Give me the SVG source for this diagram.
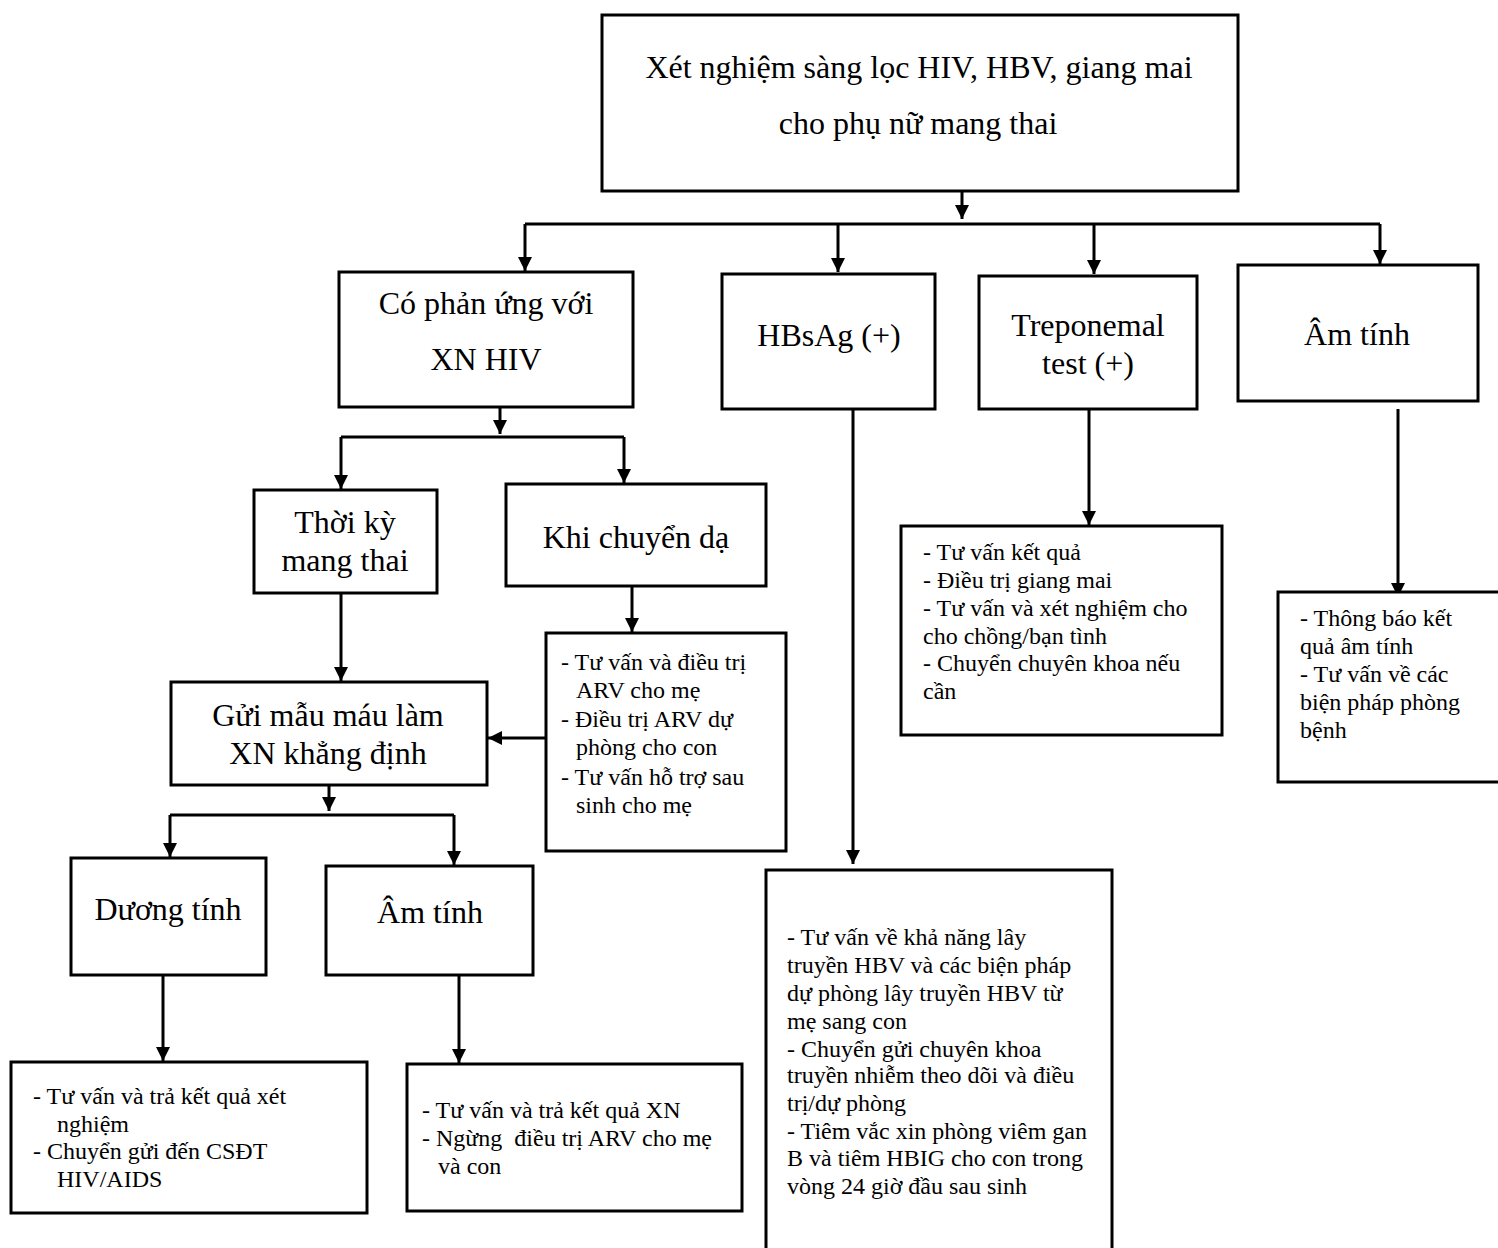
<svg xmlns="http://www.w3.org/2000/svg" width="1498" height="1248" viewBox="0 0 1498 1248">
<style>
.box{fill:#fff;stroke:#000;stroke-width:3}
.t{font-family:"Liberation Serif","Times New Roman",serif;fill:#000}
.big{font-size:32px;text-anchor:middle}
.sm{font-size:24px}
.hb{font-size:24px}
.c{fill:none;stroke:#000;stroke-width:3}
</style>
<defs>
<marker id="ah" markerUnits="userSpaceOnUse" markerWidth="14" markerHeight="16" refX="14" refY="7" orient="auto">
<path d="M0,0 L14,7 L0,14 Z" fill="#000"/>
</marker>
</defs>
<rect width="1498" height="1248" fill="#fff"/>

<g id="connectors">
<path class="c" d="M962,191 V219" marker-end="url(#ah)"/>
<path class="c" d="M525,224 H1380"/>
<path class="c" d="M525,224 V271" marker-end="url(#ah)"/>
<path class="c" d="M838,224 V272" marker-end="url(#ah)"/>
<path class="c" d="M1094,224 V274" marker-end="url(#ah)"/>
<path class="c" d="M1380,224 V264" marker-end="url(#ah)"/>
<path class="c" d="M500,407 V434" marker-end="url(#ah)"/>
<path class="c" d="M341,437 H624"/>
<path class="c" d="M341,437 V489" marker-end="url(#ah)"/>
<path class="c" d="M624,437 V483" marker-end="url(#ah)"/>
<path class="c" d="M632,586 V632" marker-end="url(#ah)"/>
<path class="c" d="M341,593 V681" marker-end="url(#ah)"/>
<path class="c" d="M546,738 H488" marker-end="url(#ah)"/>
<path class="c" d="M329,785 V811" marker-end="url(#ah)"/>
<path class="c" d="M170,815 H454"/>
<path class="c" d="M170,815 V857" marker-end="url(#ah)"/>
<path class="c" d="M454,815 V865" marker-end="url(#ah)"/>
<path class="c" d="M163,975 V1061" marker-end="url(#ah)"/>
<path class="c" d="M459,975 V1063" marker-end="url(#ah)"/>
<path class="c" d="M853,409 V864" marker-end="url(#ah)"/>
<path class="c" d="M1089,409 V525" marker-end="url(#ah)"/>
<path class="c" d="M1398,409 V597" marker-end="url(#ah)" stroke-width="2"/>
</g>

<g id="n-top">
<rect class="box" x="602" y="15" width="636" height="176"/>
<text class="t big" x="919" y="78">Xét nghiệm sàng lọc HIV, HBV, giang mai</text>
<text class="t big" x="918" y="134">cho phụ nữ mang thai</text>
</g>

<g id="n-hiv">
<rect class="box" x="339" y="272" width="294" height="135"/>
<text class="t big" x="486" y="314">Có phản ứng với</text>
<text class="t big" x="486" y="370">XN HIV</text>
</g>

<g id="n-hbsag">
<rect class="box" x="722" y="274" width="213" height="135"/>
<text class="t big" x="829" y="346">HBsAg (+)</text>
</g>

<g id="n-trep">
<rect class="box" x="979" y="276" width="218" height="133"/>
<text class="t big" x="1088" y="336">Treponemal</text>
<text class="t big" x="1088" y="374">test (+)</text>
</g>

<g id="n-neg">
<rect class="box" x="1238" y="265" width="240" height="136"/>
<text class="t big" x="1357" y="345">Âm tính</text>
</g>

<g id="n-thoiky">
<rect class="box" x="254" y="490" width="183" height="103"/>
<text class="t big" x="345" y="533">Thời kỳ</text>
<text class="t big" x="345" y="571">mang thai</text>
</g>

<g id="n-chuyenda">
<rect class="box" x="506" y="484" width="260" height="102"/>
<text class="t big" x="636" y="548">Khi chuyển dạ</text>
</g>

<g id="n-arv">
<rect class="box" x="546" y="633" width="240" height="218"/>
<text class="t sm" x="561" y="670">- Tư vấn và điều trị</text>
<text class="t sm" x="576" y="698">ARV cho mẹ</text>
<text class="t sm" x="561" y="727">- Điều trị ARV dự</text>
<text class="t sm" x="576" y="755">phòng cho con</text>
<text class="t sm" x="561" y="785">- Tư vấn hỗ trợ sau</text>
<text class="t sm" x="576" y="813">sinh cho mẹ</text>
</g>

<g id="n-gui">
<rect class="box" x="171" y="682" width="316" height="103"/>
<text class="t big" x="328" y="726">Gửi mẫu máu làm</text>
<text class="t big" x="328" y="764">XN khẳng định</text>
</g>

<g id="n-duong">
<rect class="box" x="71" y="858" width="195" height="117"/>
<text class="t big" x="168" y="920">Dương tính</text>
</g>

<g id="n-am">
<rect class="box" x="326" y="866" width="207" height="109"/>
<text class="t big" x="430" y="923">Âm tính</text>
</g>

<g id="n-duong-act">
<rect class="box" x="11" y="1062" width="356" height="151"/>
<text class="t sm" x="33" y="1104">- Tư vấn và trả kết quả xét</text>
<text class="t sm" x="57" y="1132">nghiệm</text>
<text class="t sm" x="33" y="1159">- Chuyển gửi đến CSĐT</text>
<text class="t sm" x="57" y="1187">HIV/AIDS</text>
</g>

<g id="n-am-act">
<rect class="box" x="407" y="1064" width="335" height="147"/>
<text class="t sm" x="422" y="1118">- Tư vấn và trả kết quả XN</text>
<text class="t sm" x="422" y="1146" xml:space="preserve">- Ngừng  điều trị ARV cho mẹ</text>
<text class="t sm" x="438" y="1174">và con</text>
</g>

<g id="n-hbv-act">
<rect class="box" x="766" y="870" width="346" height="390"/>
<text class="t hb" x="787" y="945">- Tư vấn về khả năng lây</text>
<text class="t hb" x="787" y="973">truyền HBV và các biện pháp</text>
<text class="t hb" x="787" y="1001">dự phòng lây truyền HBV từ</text>
<text class="t hb" x="787" y="1029">mẹ sang con</text>
<text class="t hb" x="787" y="1057">- Chuyển gửi chuyên khoa</text>
<text class="t hb" x="787" y="1083">truyền nhiễm theo dõi và điều</text>
<text class="t hb" x="787" y="1111">trị/dự phòng</text>
<text class="t hb" x="787" y="1139">- Tiêm vắc xin phòng viêm gan</text>
<text class="t hb" x="787" y="1166">B và tiêm HBIG cho con trong</text>
<text class="t hb" x="787" y="1194">vòng 24 giờ đầu sau sinh</text>
</g>

<g id="n-trep-act">
<rect class="box" x="901" y="526" width="321" height="209"/>
<text class="t hb" x="923" y="560">- Tư vấn kết quả</text>
<text class="t hb" x="923" y="588">- Điều trị giang mai</text>
<text class="t hb" x="923" y="616">- Tư vấn và xét nghiệm cho</text>
<text class="t hb" x="923" y="644">cho chồng/bạn tình</text>
<text class="t hb" x="923" y="671">- Chuyển chuyên khoa nếu</text>
<text class="t hb" x="923" y="699">cần</text>
</g>

<g id="n-neg-act">
<rect class="box" x="1278" y="592" width="230" height="190"/>
<text class="t sm" x="1300" y="626">- Thông báo kết</text>
<text class="t sm" x="1300" y="654">quả âm tính</text>
<text class="t sm" x="1300" y="682">- Tư vấn về các</text>
<text class="t sm" x="1300" y="710">biện pháp phòng</text>
<text class="t sm" x="1300" y="738">bệnh</text>
</g>
</svg>
